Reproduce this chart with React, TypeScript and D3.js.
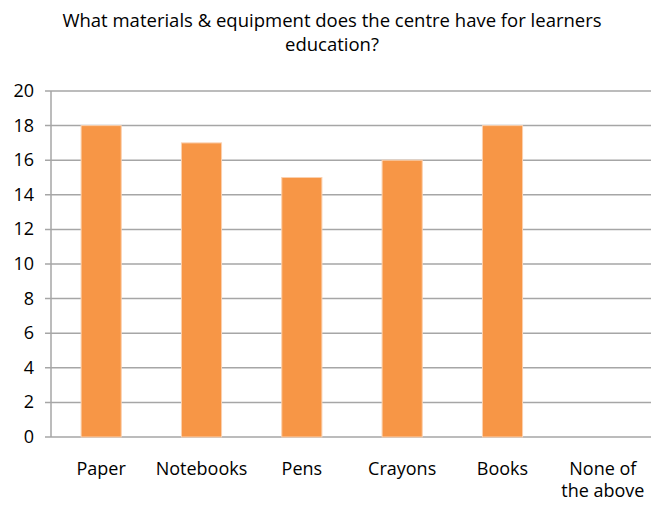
import React from "react";
import * as d3 from "d3";

const categories = ["Paper", "Notebooks", "Pens", "Crayons", "Books", "None of the above"];
const counts = [18, 17, 15, 16, 18, 0];
const yTicks = [0, 2, 4, 6, 8, 10, 12, 14, 16, 18, 20];
const titleLines = ["What materials & equipment does the centre have for learners", "education?"];

const W = 651;
const H = 506;
const FONT = "'Open Sans', sans-serif";

export default function App() {
	const left = 51;
	const right = 653;
	const top = 91;
	const bottom = 437;

	const x = d3
		.scaleBand<string>()
		.domain(categories)
		.range([left, right])
		.paddingInner(0.6)
		.paddingOuter(0.3);

	const y = d3.scaleLinear().domain([0, 20]).range([bottom, top]);

	// wrap long labels onto two lines
	const labelLines = (c: string) => (c === "None of the above" ? ["None of", "the above"] : [c]);

	return (
		<svg
			width={W}
			height={H}
			style={{ position: "absolute", left: 0, top: 0, background: "#fff" }}
			fontFamily={FONT}
		>
			{titleLines.map((t, i) => (
				<text key={i} x={332} y={27 + i * 24} textAnchor="middle" fontSize={18.5} fill="#000">
					{t}
				</text>
			))}

			{yTicks.map((t) => (
				<g key={t}>
					<line x1={left - 6} x2={W} y1={y(t)} y2={y(t)} stroke="#a6a6a6" strokeWidth={1.5} />
					<text x={34} y={y(t) + 6} textAnchor="end" fontSize={18} fill="#000">
						{t}
					</text>
				</g>
			))}
			<line x1={left} x2={left} y1={top} y2={bottom} stroke="#a6a6a6" strokeWidth={1.5} />

			{categories.map((c, i) => (
				<rect
					key={c}
					x={x(c)}
					y={y(counts[i])}
					width={x.bandwidth()}
					height={bottom - y(counts[i])}
					fill="#f79646"
					stroke="#fbd0ae"
					strokeWidth={counts[i] > 0 ? 1 : 0}
				/>
			))}

			{categories.map((c) =>
				labelLines(c).map((l, j) => (
					<text
						key={c + j}
						x={(x(c) ?? 0) + x.bandwidth() / 2}
						y={475 + j * 22}
						textAnchor="middle"
						fontSize={18}
						fill="#000"
					>
						{l}
					</text>
				))
			)}
		</svg>
	);
}
